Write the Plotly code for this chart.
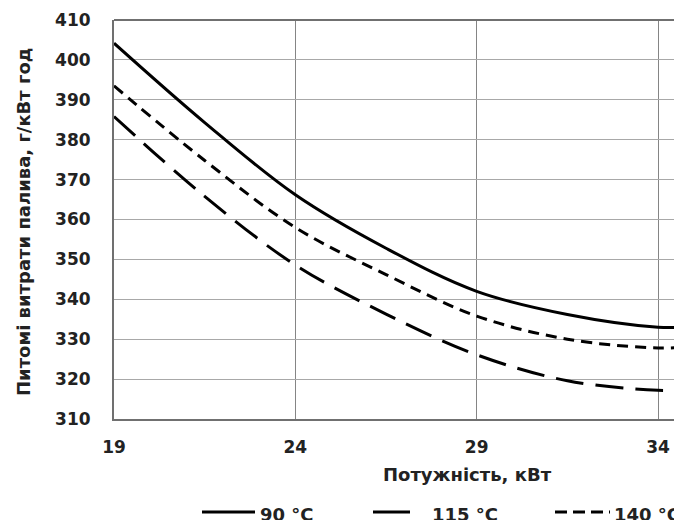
import plotly.graph_objects as go

# ---- data ----
power_kw = [19, 21.5, 24, 26.5, 29, 31.5, 34, 34.66]
sfc_90 = [404.2, 384.3, 366.2, 352.8, 342.0, 336.2, 333.0, 333.0]
sfc_115 = [385.8, 365.8, 348.6, 336.3, 326.1, 319.6, 317.2, 317.3]
sfc_140 = [393.5, 374.8, 358.0, 346.2, 335.8, 330.0, 327.8, 328.0]
series_names = ["90 °C", "115 °C", "140 °C"]
x_ticks = [19, 24, 29, 34]
y_ticks = list(range(310, 411, 10))

# page body has an 8px margin, so the figure is sized to fill the window exactly
OFF = 8
W, H = 682 - OFF, 520 - OFF
L, T, R, B = 106, 12, 0, 101
pw, ph = W - L - R, H - T - B

FONT = "DejaVu Sans"
TXT = "#222222"

def px(x_img):
    return (x_img - OFF - L) / pw

def py(y_img):
    return (H - B - (y_img - OFF)) / ph

fig = go.Figure()
styles = [
    dict(width=3, dash="solid"),
    dict(width=3, dash="28px,12px"),
    dict(width=3, dash="11px,7px"),
]
for name, ys, st in zip(series_names, [sfc_90, sfc_115, sfc_140], styles):
    fig.add_trace(go.Scatter(
        x=power_kw, y=ys, mode="lines", name=name,
        line=dict(color="black", width=st["width"], dash=st["dash"],
                  shape="spline", smoothing=1.0),
        showlegend=False,
    ))

fig.update_layout(
    width=W, height=H,
    margin=dict(l=L, r=R, t=T, b=B, pad=0),
    paper_bgcolor="white", plot_bgcolor="white",
    font=dict(family=FONT, color=TXT),
    showlegend=False,
)
fig.update_xaxes(
    range=[19, 19 + pw / 36.27], tickvals=x_ticks,
    showgrid=True, gridcolor="#858585", gridwidth=1.3,
    showline=True, linecolor="#707070", linewidth=2,
    ticks="", ticklabelstandoff=12,
    tickfont=dict(family=FONT, size=17, color=TXT, weight="bold"),
    zeroline=False,
)
fig.update_yaxes(
    range=[310, 410], tickvals=y_ticks,
    showgrid=True, gridcolor="#a8a8a8", gridwidth=1.3,
    showline=True, linecolor="#707070", linewidth=2,
    ticks="", ticklabelstandoff=18,
    tickfont=dict(family=FONT, size=17, color=TXT, weight="bold"),
    zeroline=False,
)

# top border
fig.add_shape(type="line", xref="paper", yref="paper", x0=0, x1=1, y0=1, y1=1,
              line=dict(color="#707070", width=2))

# axis titles
fig.add_annotation(text="Потужність, кВт", xref="paper", yref="paper",
                   x=px(467), y=py(474), xanchor="center", yanchor="middle",
                   showarrow=False,
                   font=dict(family=FONT, size=18, color=TXT, weight="bold"))
fig.add_annotation(text="Питомі витрати палива, г/кВт год", xref="paper", yref="paper",
                   x=px(23), y=py(222), xanchor="center", yanchor="middle",
                   textangle=-90, showarrow=False,
                   font=dict(family=FONT, size=18, color=TXT, weight="bold"))

# legend (manual, at the bottom)
leg_y = 512
leg_items = [
    (series_names[0], 202, 255, "solid", 258),
    (series_names[1], 373, 410, "solid", 430),
    (series_names[2], 555, 610, "12px,6px", 612),
]
for name, x0, x1, dash, tx in leg_items:
    fig.add_shape(type="line", xref="paper", yref="paper",
                  x0=px(x0), x1=px(x1), y0=py(leg_y), y1=py(leg_y),
                  line=dict(color="black", width=3, dash=dash))
    fig.add_annotation(text=name, xref="paper", yref="paper",
                       x=px(tx), y=py(leg_y + 2), xanchor="left", yanchor="middle",
                       showarrow=False,
                       font=dict(family=FONT, size=18, color=TXT, weight="bold"))

fig.write_html("out.html")
